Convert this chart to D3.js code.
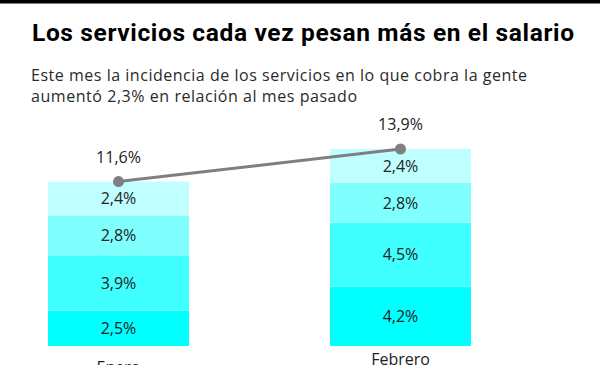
<!DOCTYPE html>
<html>
<head>
<meta charset="utf-8">
<script src="https://cdn.jsdelivr.net/npm/d3@7"></script>
<style>
  html, body { margin: 0; padding: 0; background: #fff; }
  svg { display: block; font-family: "Open Sans", Roboto, sans-serif; }
</style>
</head>
<body>
<div id="chart"></div>
<script>
// Datos del grafico (de abajo hacia arriba en cada barra)
const meses = ['Enero', 'Febrero'];
const capa1 = [2.5, 4.2];
const capa2 = [3.9, 4.5];
const capa3 = [2.8, 2.8];
const capa4 = [2.4, 2.4];
const totales = [11.6, 13.9];
const colores = ['#00ffff', '#40ffff', '#80ffff', '#c0ffff'];

const width = 600;
const height = 365;

const svg = d3.select('#chart')
    .append('svg')
    .attr('width', width)
    .attr('height', height);

// barra negra superior
svg.append('rect')
    .attr('x', 0).attr('y', 0)
    .attr('width', width).attr('height', 3.5)
    .style('fill', '#000');

// titulo
svg.append('text')
    .attr('x', 32)
    .attr('y', 41)
    .attr('textLength', 542)
    .attr('lengthAdjust', 'spacing')
    .style('font-family', 'Roboto, sans-serif')
    .style('font-size', '24.5px')
    .style('font-weight', 700)
    .style('fill', '#000')
    .text('Los servicios cada vez pesan más en el salario');

// bajada
const sub = ['Este mes la incidencia de los servicios en lo que cobra la gente',
             'aumentó 2,3% en relación al mes pasado'];
const largos = [496, 326];
sub.forEach((t, i) => {
    svg.append('text')
        .attr('x', 31)
        .attr('y', 81 + i * 21)
        .attr('textLength', largos[i])
        .attr('lengthAdjust', 'spacing')
        .style('font-size', '16px')
        .style('fill', '#2a2a2a')
        .text(t);
});

// escalas
const x = d3.scaleBand()
    .domain(meses)
    .range([48, 471])
    .paddingInner(0.5)
    .paddingOuter(0);

const y = d3.scaleLinear()
    .domain([0, 13.9])
    .range([346, 149]);

const tabla = meses.map((m, i) => ({
    mes: m, c1: capa1[i], c2: capa2[i], c3: capa3[i], c4: capa4[i]
}));
const claves = ['c1', 'c2', 'c3', 'c4'];
const series = d3.stack().keys(claves)(tabla);

const fmt = v => d3.format('.1f')(v).replace('.', ',') + '%';

// barras apiladas
const capas = svg.append('g').selectAll('g')
    .data(series)
    .join('g')
    .style('fill', (d, i) => colores[i]);

capas.selectAll('rect')
    .data(d => d)
    .join('rect')
    .attr('x', d => x(d.data.mes))
    .attr('y', d => y(d[1]))
    .attr('width', x.bandwidth())
    .attr('height', d => y(d[0]) - y(d[1]));

// etiquetas de cada segmento
capas.selectAll('text')
    .data(d => d.map(p => ({ p: p, key: d.key })))
    .join('text')
    .attr('x', d => x(d.p.data.mes) + x.bandwidth() / 2)
    .attr('y', d => (y(d.p[0]) + y(d.p[1])) / 2)
    .attr('dy', '0.36em')
    .attr('text-anchor', 'middle')
    .style('font-size', '16px')
    .style('fill', '#222')
    .text(d => fmt(d.p.data[d.key]));

// linea de totales
const linea = d3.line()
    .x((d, i) => x(meses[i]) + x.bandwidth() / 2)
    .y(d => y(d));

svg.append('path')
    .datum(totales)
    .attr('d', linea)
    .style('fill', 'none')
    .style('stroke', '#7f7f7f')
    .style('stroke-width', 3);

svg.selectAll('.punto')
    .data(totales)
    .join('circle')
    .attr('class', 'punto')
    .attr('cx', (d, i) => x(meses[i]) + x.bandwidth() / 2)
    .attr('cy', d => y(d))
    .attr('r', 5.5)
    .style('fill', '#7f7f7f');

svg.selectAll('.total')
    .data(totales)
    .join('text')
    .attr('class', 'total')
    .attr('x', (d, i) => x(meses[i]) + x.bandwidth() / 2)
    .attr('y', d => y(d) - 19)
    .attr('text-anchor', 'middle')
    .style('font-size', '16px')
    .style('fill', '#222')
    .text(d => fmt(d));

// etiquetas del eje x (Enero queda un poco mas abajo en el original)
const bajar = { Enero: 8, Febrero: 0 };
svg.selectAll('.mes')
    .data(meses)
    .join('text')
    .attr('class', 'mes')
    .attr('x', d => x(d) + x.bandwidth() / 2)
    .attr('y', d => 365 + bajar[d])
    .attr('text-anchor', 'middle')
    .style('font-size', '16px')
    .style('fill', '#222')
    .text(d => d);
</script>
</body>
</html>
